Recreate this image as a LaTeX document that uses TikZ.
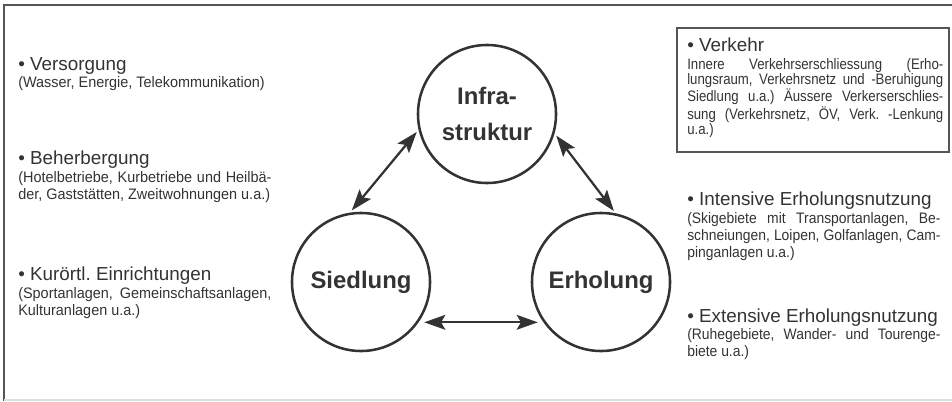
\documentclass[tikz,border=0pt]{standalone}
\usepackage{fontspec}
\setmainfont{Liberation Sans}
\newfontfamily\narrowfont[FakeStretch=0.915]{Liberation Sans}
\newfontfamily\leftfont[FakeStretch=0.95]{Liberation Sans}
\newfontfamily\boxfont[FakeStretch=0.87]{Liberation Sans}
\usepackage{tikz}
\usetikzlibrary{arrows.meta,shapes}
\frenchspacing
\definecolor{ink}{HTML}{333333}
\definecolor{rulegray}{HTML}{555555}
\tikzstyle{sphere}=[circle,draw=ink,line width=1.8pt,minimum size=3.45cm,inner sep=0pt,text=ink,align=center,font=\fontsize{17}{25.6}\selectfont\bfseries]
\tikzstyle{headline}=[anchor=base west,inner sep=0pt,text=ink,font=\fontsize{13.4}{16}\selectfont]
\tikzstyle{subtext}=[anchor=base west,inner sep=0pt,text=ink,text width=6.33cm,align=justify,font=\narrowfont\fontsize{10.8}{12.1}\selectfont\frenchspacing]
\tikzstyle{lefttext}=[subtext,font=\leftfont\fontsize{10.8}{12.1}\selectfont\frenchspacing]
\tikzstyle{boxtext}=[subtext,text width=6.4cm,font=\boxfont\fontsize{10.8}{11}\selectfont\frenchspacing]
\tikzstyle{link}=[draw=ink,line width=1.6pt,{Stealth[length=15pt,width=10.5pt,inset=3pt]}-{Stealth[length=15pt,width=10.5pt,inset=3pt]},shorten >=2pt,shorten <=2pt]

\begin{document}
\begin{tikzpicture}[x=0.025cm,y=-0.025cm]
  \useasboundingbox (0,0) rectangle (952,401);
  % frame
  \draw[rulegray,line width=1.4pt] (4,401) -- (4,5) -- (952,5);
  \draw[black!12,line width=0.8pt] (4,400) -- (952,400);

  % the three circles
  \node[sphere] (infra) at (487,114) {Infra-\\struktur};
  \node[sphere] (sied) at (361,282) {Siedlung};
  \node[sphere] (erho) at (601,282) {Erholung};
  \draw[link] (sied.99) to (infra.193);
  \draw[link] (infra.344) to (erho.78);
  \draw[link,shorten >=4pt,shorten <=4pt] (sied.-35) to (erho.215);

  % left column
  \node[headline] (versorgung) at (18,70) {• Versorgung};
  \node[lefttext] (versorgungtext) at (18,87) {(Wasser, Energie, Telekommunikation)};
  \node[headline] (beherbergung) at (18,164) {• Beherbergung};
  \node[lefttext] (beherbergungtext) at (18,182) {(Hotelbetriebe, Kurbetriebe und Heilbä-\linebreak der, Gaststätten, Zweitwohnungen u.a.)};
  \node[headline] (kurort) at (18,280) {• Kurörtl. Einrichtungen};
  \node[lefttext] (kurorttext) at (18,298) {(Sportanlagen, Gemeinschaftsanlagen,\linebreak Kulturanlagen u.a.)};

  % right column
  \draw[rulegray,line width=1.4pt] (677,28) rectangle (949,152);
  \node[headline] (verkehr) at (687,51) {• Verkehr};
  \node[boxtext] (verkehrtext) at (687,69) {Innere Verkehrserschliessung (Erho-\linebreak lungsraum, Verkehrsnetz und -Beruhigung\linebreak Siedlung u.a.) Äussere Verkerserschlies-\linebreak sung (Verkehrsnetz, ÖV, Verk. -Lenkung\linebreak u.a.)};
  \node[headline] (intensiv) at (687,205) {• Intensive Erholungsnutzung};
  \node[subtext] (intensivtext) at (687,223) {(Skigebiete mit Transportanlagen, Be-\linebreak schneiungen, Loipen, Golfanlagen, Cam-\linebreak pinganlagen u.a.)};
  \node[headline] (extensiv) at (687,322) {• Extensive Erholungsnutzung};
  \node[subtext] (extensivtext) at (687,339) {(Ruhegebiete, Wander- und Tourenge-\linebreak biete u.a.)};
\end{tikzpicture}
\end{document}
